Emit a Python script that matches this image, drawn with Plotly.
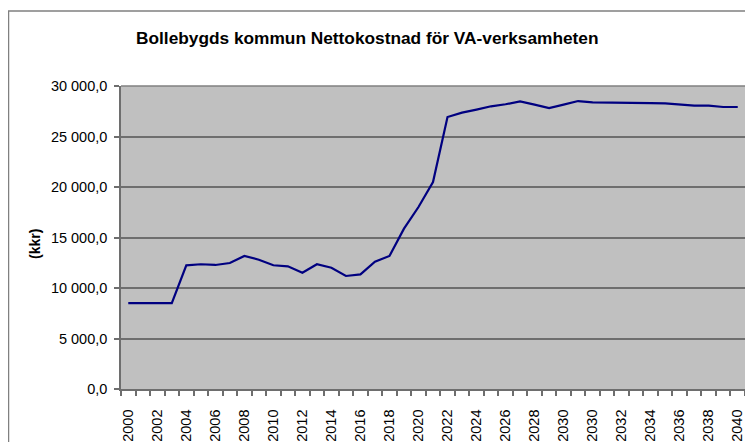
import plotly.graph_objects as go

# Category positions (43 categories; every other one labelled)
categories = list(range(43))
tick_positions = list(range(0, 43, 2))
tick_labels = ["2000", "2002", "2004", "2006", "2008", "2010", "2012", "2014",
               "2016", "2018", "2020", "2022", "2024", "2026", "2028", "2030",
               "2030", "2032", "2034", "2036", "2038", "2040"]

values = [8500, 8500, 8500, 8500, 12250, 12350, 12280, 12470, 13170, 12800,
          12250, 12150, 11520, 12350, 12000, 11190, 11350, 12600, 13170, 15880,
          18020, 20490, 26930, 27360, 27660, 27990, 28190, 28480, 28160, 27820,
          28160, 28510, 28380, 28380, 28380, 28380, 28310, 28280, 28190, 28050,
          28050, 27920, 27920]

y_ticks = [0, 5000, 10000, 15000, 20000, 25000, 30000]

title_text = "Bollebygds kommun Nettokostnad för VA-verksamheten"
y_title = "(kkr)"

FONT = "Liberation Sans, Arial, sans-serif"

OFF = 8  # page body margin
W, H = 737, 434
L, R, T, B = 113, 0, 78, 53
pw, ph = W - L - R, H - T - B

def px_x(p):
    return (p - OFF - L) / pw

def px_y(p):
    return (H - B - (p - OFF)) / ph

fig = go.Figure()
fig.add_trace(go.Scatter(
    x=categories, y=values, mode="lines",
    line=dict(color="#000080", width=2.2),
    hoverinfo="skip", showlegend=False,
))

fig.update_layout(
    width=W, height=H,
    margin=dict(l=L, r=R, t=T, b=B, pad=0, autoexpand=False),
    paper_bgcolor="white",
    plot_bgcolor="#c0c0c0",
    separators=", ",
    font=dict(family=FONT, size=14, color="black"),
    showlegend=False,
)

fig.update_xaxes(
    range=[-0.5, 42.5], automargin=False,
    tickmode="array", tickvals=tick_positions, ticktext=tick_labels,
    tickangle=-90, ticks="", showgrid=False, zeroline=False,
    showline=True, linecolor="#6e6e6e", linewidth=1.5,
    tickfont=dict(family=FONT, size=14.5, color="black"),
    ticklabelstandoff=13, ticklabeloverflow="allow",
    minor=dict(tickvals=[i - 0.5 for i in range(44)], ticks="outside",
               ticklen=5, tickcolor="#6e6e6e", tickwidth=1.5, showgrid=False),
)

fig.update_yaxes(
    range=[0, 30000], automargin=False,
    tickmode="array", tickvals=y_ticks, tickformat=",.1f",
    ticks="outside", ticklen=5, tickcolor="#6e6e6e", tickwidth=1.5,
    showgrid=True, gridcolor="#6e6e6e", gridwidth=1.5,
    zeroline=False,
    showline=True, linecolor="#6e6e6e", linewidth=1.5,
    tickfont=dict(family=FONT, size=14.5, color="black"),
    ticklabelstandoff=4,
)

# chart-area border
fig.add_shape(type="rect", xref="paper", yref="paper",
              x0=px_x(8.5), x1=px_x(W + 40), y0=px_y(H + 40), y1=px_y(11),
              line=dict(color="#808080", width=1.5), fillcolor="rgba(0,0,0,0)",
              layer="below")

# top border line of plot area
fig.add_shape(type="line", xref="paper", yref="paper",
              x0=0, x1=1, y0=1, y1=1,
              line=dict(color="#808080", width=1.5))

fig.add_annotation(text="<b>" + title_text + "</b>", xref="paper", yref="paper",
                   x=px_x(367), y=px_y(38), xanchor="center", yanchor="middle",
                   showarrow=False, font=dict(family=FONT, size=17.3, color="black"))

fig.add_annotation(text="<b>" + y_title + "</b>", xref="paper", yref="paper",
                   x=px_x(35), y=px_y(244), xanchor="center", yanchor="middle",
                   textangle=-90, showarrow=False,
                   font=dict(family=FONT, size=14, color="black"))

fig.write_html("out.html")
